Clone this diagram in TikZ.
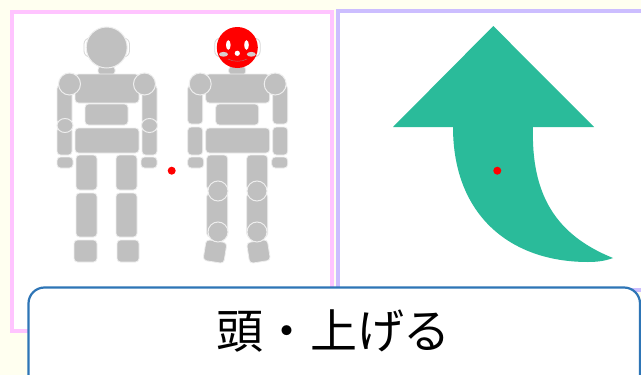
\documentclass[tikz,border=0pt]{standalone}
\usepackage{fontspec}
\newfontfamily\jpfont{Noto Sans CJK JP}
\definecolor{pagebg}{RGB}{255,255,240}
\definecolor{pinkframe}{RGB}{255,196,255}
\definecolor{violetframe}{RGB}{204,190,255}
\definecolor{bodygray}{RGB}{192,192,192}
\definecolor{seamline}{RGB}{238,238,238}
\definecolor{earline}{RGB}{215,215,215}
\definecolor{arrowteal}{RGB}{42,187,154}
\definecolor{labelblue}{RGB}{46,117,182}
\definecolor{cheekgray}{RGB}{215,205,205}
\tikzset{
  part/.style={fill=bodygray, draw=seamline, line width=0.8pt, rounded corners=3.5pt},
  joint/.style={fill=bodygray, draw=seamline, line width=1pt},
  ears/.style={draw=earline, line width=0.8pt, fill=white, rounded corners=6pt},
  pivot/.style={fill=red, draw=none},
  frameline/.style={line width=4pt, fill=white},
}
% one body without its head; #1 = x offset
\newcommand{\robotbody}[1]{%
  \begin{scope}[xshift=#1pt]
    \draw[part] (98,66) rectangle (115,75);          % neck
    \draw[part] (57,85) rectangle (72,124);          % upper arms
    \draw[part] (142,85) rectangle (157,124);
    \draw[part] (57,127) rectangle (72,155);         % forearms
    \draw[part] (142,127) rectangle (157,155);
    \draw[part] (57,157) rectangle (73,168);         % hands
    \draw[part] (141,157) rectangle (157,168);
    \draw[part] (75,74) rectangle (139,103);         % chest
    \draw[part] (85,104) rectangle (128,125);        % waist
    \draw[part] (75,128) rectangle (139,153);        % hips
    \draw[joint] (69.5,84) circle (11);              % shoulders
    \draw[joint] (144.5,84) circle (11);
    \draw[part] (76,155) rectangle (97,190);         % thighs
    \draw[part] (116,155) rectangle (137,190);
    \draw[part] (76,193) rectangle (97,237);         % shins
    \draw[part] (116,193) rectangle (137,237);
  \end{scope}}
\begin{document}
\begin{tikzpicture}[x=1pt,y=-1pt]
  \useasboundingbox (0,0) rectangle (641,375);
  \fill[pagebg] (0,0) rectangle (641,375);

  % panels
  \draw[frameline, draw=pinkframe] (11.5,11.5) rectangle (331.5,331);
  \draw[frameline, draw=violetframe] (337.5,10.5) rectangle (660,290);

  % left figure: plain head, elbow joints
  \draw[ears] (84,38) rectangle (129.5,57);
  \robotbody{0}
  \draw[joint] (106.7,47.5) circle (20.5);
  \draw[joint] (65,125.5) ellipse (8 and 7);
  \draw[joint] (149.5,125.5) ellipse (8 and 7);
  \draw[part] (74,240) rectangle (97,262);
  \draw[part] (117,240) rectangle (139,262);

  % right figure: red head, knee and ankle joints, tilted feet
  \draw[ears] (214.7,38) rectangle (260.2,57);
  \robotbody{130.7}
  \draw[part, rotate around={-9:(215,251.5)}] (204.5,241) rectangle (225.5,262);
  \draw[part, rotate around={9:(258.5,251.5)}] (248,241) rectangle (269,262);
  \draw[joint] (218,191) circle (10);
  \draw[joint] (257,191) circle (10);
  \draw[joint] (218,232) circle (10);
  \draw[joint] (257,232) circle (10);
  \fill[red] (237.3,47.5) circle (20.5);
  \fill[white] (228.3,45) ellipse (2.3 and 4.8);
  \fill[white] (246.5,45) ellipse (2.3 and 4.8);
  \fill[white] (237.3,53.3) circle (2.6);
  \fill[cheekgray] (223.5,54.3) ellipse (4.5 and 2.4);
  \fill[cheekgray] (251.3,54.3) ellipse (4.5 and 2.4);
  \draw[red!55!black!60, line width=0.5pt] (228,59) .. controls (233,62) and (242,62) .. (247,59);

  \fill[pivot] (171.7,170.7) circle (4);

  % curved arrow
  \fill[arrowteal] (493.3,26) -- (594,127) -- (533,127)
    .. controls (531,195) and (556,235) .. (613,258)
    .. controls (605,261) and (597,262) .. (588,262)
    .. controls (510,262) and (453,215) .. (453,127)
    -- (393,127) -- cycle;
  \fill[pivot] (497.3,170.7) circle (4);

  % caption
  \draw[labelblue, line width=2.2pt, fill=white, rounded corners=16pt]
    (28.5,287.5) rectangle (640,420);
  \node[font={\jpfont\fontsize{47}{50}\selectfont}, inner sep=0pt] (caption) at (333.5,331) {頭・上げる};
\end{tikzpicture}
\end{document}
